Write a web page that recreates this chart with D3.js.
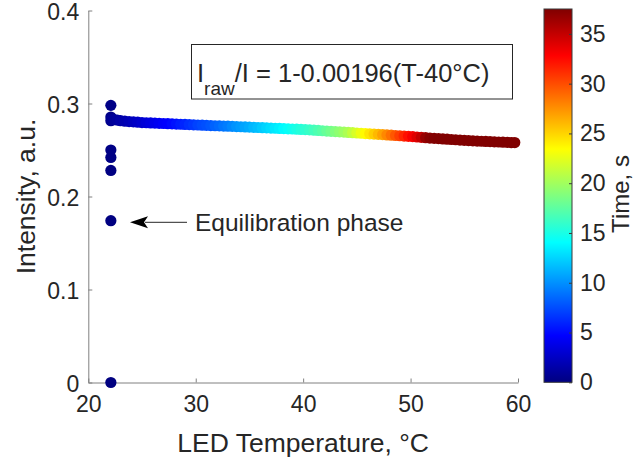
<!DOCTYPE html>
<html><head><meta charset="utf-8">
<script src="https://cdn.jsdelivr.net/npm/d3@7"></script>
<style>
body{margin:0;background:#fff;}
svg{font-family:"Liberation Sans",Arial,Helvetica,sans-serif;}
</style></head>
<body><svg id="c" width="635" height="464"></svg>
<script>
// Equilibration phase points (LED temperature °C, intensity a.u., time s)
const eqTemp = [22.1, 22.1, 22.1, 22.1, 22.1, 22.1];
const eqIntensity = [0.000, 0.174, 0.228, 0.242, 0.250, 0.298];
const eqTime = [0.0, 0.05, 0.1, 0.15, 0.2, 0.25];

// Main heating series
const ledTemp = [22.1,22.1,22.2,22.4,22.7,23.0,23.4,23.8,24.2,24.6,25.0,25.4,25.8,26.2,26.6,27.0,27.4,27.8,28.2,28.6,29.0,29.4,29.8,30.2,30.6,31.0,31.4,31.8,32.2,32.6,33.0,33.4,33.8,34.2,34.6,35.0,35.4,35.8,36.2,36.6,37.0,37.4,37.8,38.2,38.6,39.0,39.4,39.8,40.2,40.6,41.0,41.4,41.8,42.2,42.6,43.0,43.4,43.8,44.2,44.6,45.0,45.4,45.8,46.2,46.6,47.0,47.4,47.8,48.2,48.6,49.0,49.4,49.8,50.2,50.6,51.0,51.4,51.8,52.2,52.6,53.0,53.4,53.8,54.2,54.6,55.0,55.4,55.8,56.2,56.6,57.0,57.4,57.8,58.2,58.6,59.0,59.4,59.7];
const intensity = [0.2855,0.2815,0.2830,0.2826,0.2822,0.2815,0.2810,0.2806,0.2803,0.2799,0.2795,0.2793,0.2791,0.2789,0.2787,0.2785,0.2783,0.2781,0.2779,0.2777,0.2775,0.2773,0.2771,0.2769,0.2767,0.2765,0.2763,0.2761,0.2759,0.2757,0.2756,0.2754,0.2752,0.2750,0.2748,0.2746,0.2744,0.2742,0.2740,0.2738,0.2736,0.2734,0.2732,0.2730,0.2728,0.2726,0.2724,0.2721,0.2719,0.2716,0.2713,0.2710,0.2707,0.2704,0.2701,0.2698,0.2695,0.2692,0.2689,0.2686,0.2683,0.2680,0.2677,0.2674,0.2671,0.2668,0.2665,0.2662,0.2659,0.2656,0.2653,0.2650,0.2647,0.2644,0.2640,0.2636,0.2632,0.2628,0.2625,0.2622,0.2619,0.2616,0.2613,0.2610,0.2607,0.2604,0.2601,0.2598,0.2596,0.2594,0.2592,0.2590,0.2588,0.2586,0.2584,0.2582,0.2580,0.2580];
const timeS = [0.3,0.5,0.7,0.9,1.1,1.4,1.7,2.0,2.3,2.6,2.9,3.2,3.5,3.9,4.2,4.5,4.7,5.0,5.3,5.7,6.0,6.4,6.7,7.1,7.4,7.6,7.9,8.3,8.6,9.0,9.3,9.7,10.1,10.4,10.7,11.0,11.4,11.7,12.1,12.5,12.8,13.2,13.5,13.9,14.3,14.6,15.0,15.4,15.7,16.1,16.5,16.9,17.3,17.8,18.3,18.8,19.3,19.8,20.4,21.2,22.0,22.8,23.6,24.4,25.2,26.0,26.9,27.8,28.7,29.6,30.5,31.4,32.3,33.1,34.0,35.0,36.6,37.2,37.4,37.5,37.5,37.5,37.5,37.5,37.5,37.5,37.5,37.5,37.5,37.5,37.5,37.5,37.5,37.5,37.5,37.5,37.5,37.5];

const xTicks = [20, 30, 40, 50, 60];
const yTicks = [0, 0.1, 0.2, 0.3, 0.4];
const cTicks = [0, 5, 10, 15, 20, 25, 30, 35];
const xLabel = "LED Temperature, °C";
const yLabel = "Intensity, a.u.";
const cLabel = "Time, s";
const noteText = "Equilibration phase";

const svg = d3.select("#c");
const x = d3.scaleLinear([20, 60], [88.3, 518]);
const y = d3.scaleLinear([0, 0.4], [382.5, 10.5]);
const cMax = 37.5;
const cy = d3.scaleLinear([0, cMax], [382.3, 9]);

function jet(v) {
  const t = Math.max(0, Math.min(1, v / cMax));
  const cl = a => Math.max(0, Math.min(1, a));
  const r = cl(1.5 - Math.abs(4 * t - 3));
  const g = cl(1.5 - Math.abs(4 * t - 2));
  const b = cl(1.5 - Math.abs(4 * t - 1));
  return d3.rgb(r * 255, g * 255, b * 255).toString();
}

const axisCol = "#808080", textCol = "#262626";
const tickFont = 23;

// axes
const gx = svg.append("g").attr("transform", "translate(0,382.5)")
  .call(d3.axisBottom(x).tickValues(xTicks).tickSizeInner(-4).tickSizeOuter(0).tickPadding(13).tickFormat(d3.format("d")));
const gy = svg.append("g").attr("transform", "translate(88.3,0)")
  .call(d3.axisLeft(y).tickValues(yTicks).tickSizeInner(-4).tickSizeOuter(0).tickPadding(9).tickFormat(d => d === 0 ? "0" : d3.format(".1f")(d)));
[gx, gy].forEach(g => {
  g.select(".domain").attr("stroke", axisCol);
  g.selectAll(".tick line").attr("stroke", axisCol);
  g.selectAll(".tick text").attr("fill", textCol).attr("font-size", tickFont).attr("font-family", null);
});
gy.selectAll(".tick text").attr("dy", "0.4em");

// points
const eqData = eqTemp.map((t, i) => ({T: t, I: eqIntensity[i], s: eqTime[i]}));
const mainData = ledTemp.map((t, i) => ({T: t, I: intensity[i], s: timeS[i]}));
const all = eqData.concat(mainData);
svg.append("g").selectAll("circle").data(all).join("circle")
  .attr("cx", d => x(d.T)).attr("cy", d => y(d.I)).attr("r", 5.6)
  .attr("fill", d => jet(d.s));

// labels
svg.append("text").attr("x", (88.3 + 518) / 2).attr("y", 452).attr("text-anchor", "middle")
  .attr("font-size", 26.5).attr("fill", textCol).text(xLabel);
svg.append("text").attr("transform", "translate(35,196.5) rotate(-90)").attr("text-anchor", "middle")
  .attr("font-size", 26.5).attr("fill", textCol).text(yLabel);

// colorbar
const defs = svg.append("defs");
const grad = defs.append("linearGradient").attr("id", "jet").attr("x1", 0).attr("y1", 1).attr("x2", 0).attr("y2", 0);
[0, 0.125, 0.375, 0.625, 0.875, 1].forEach(f => grad.append("stop").attr("offset", f).attr("stop-color", jet(f * cMax)));
svg.append("rect").attr("x", 544).attr("y", cy(cMax)).attr("width", 28).attr("height", cy(0) - cy(cMax))
  .attr("fill", "url(#jet)").attr("stroke", "#3a3a3a").attr("stroke-width", 1);
const gc = svg.append("g").attr("transform", "translate(572,0)")
  .call(d3.axisRight(cy).tickValues(cTicks).tickSizeInner(-3).tickSizeOuter(0).tickPadding(8));
gc.select(".domain").remove();
gc.selectAll(".tick line").attr("stroke", "#3a3a3a");
gc.selectAll(".tick text").attr("fill", textCol).attr("font-size", tickFont).attr("font-family", null);
svg.append("text").attr("transform", "translate(629,194) rotate(-90)").attr("text-anchor", "middle")
  .attr("font-size", 24).attr("fill", textCol).text(cLabel);

// equation box
svg.append("rect").attr("x", 191.5).attr("y", 44.5).attr("width", 321).attr("height", 54.5)
  .attr("fill", "#fff").attr("stroke", textCol).attr("stroke-width", 1);
const eq = svg.append("text").attr("x", 197).attr("y", 82).attr("font-size", 25.5).attr("fill", textCol);
eq.append("tspan").text("I");
eq.append("tspan").attr("font-size", 19).attr("dy", 13).text("raw");
eq.append("tspan").attr("dy", -13).text("/I = 1-0.00196(T-40°C)");

// arrow annotation
svg.append("line").attr("x1", 187).attr("y1", 222.3).attr("x2", 145).attr("y2", 222.3)
  .attr("stroke", textCol).attr("stroke-width", 1);
svg.append("path").attr("d", "M130,222.3 L148,216.3 L144,222.3 L148,228.3 Z").attr("fill", "#000");
svg.append("text").attr("x", 195).attr("y", 230.5).attr("font-size", 24.5).attr("fill", textCol).text(noteText);
</script></body></html>
